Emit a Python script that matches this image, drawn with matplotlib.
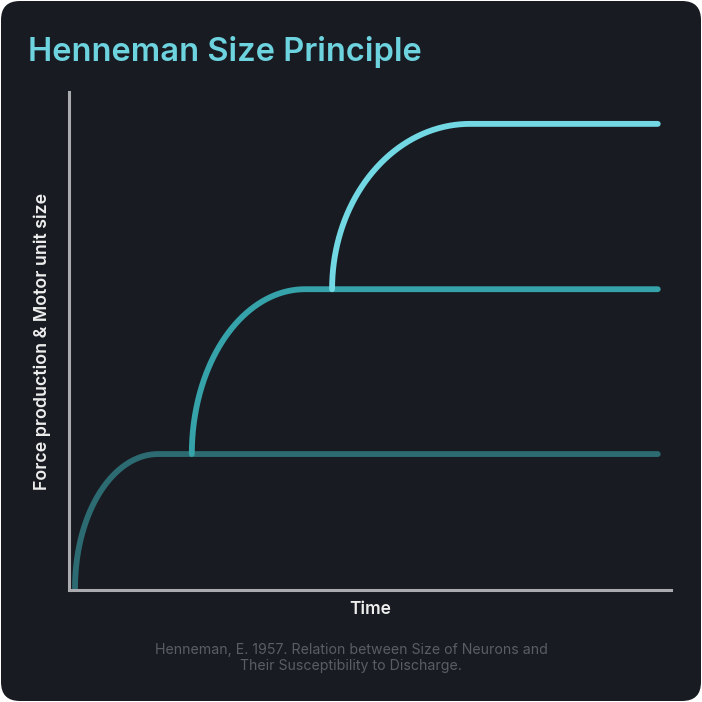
import numpy as np
import matplotlib.pyplot as plt
from matplotlib.patches import FancyBboxPatch

plt.rcParams["font.family"] = ["Inter", "DejaVu Sans"]

# Motor units: recruitment start, time at plateau, force level (0-100 scale)
unit_start = [1.0, 20.4, 43.7]
unit_plateau_t = [14.8, 39.2, 66.6]
unit_force = [27.3, 60.4, 93.6]
unit_base = [0.4, 27.3, 60.4]
end_time = 97.8
unit_colors = ["#2c6b72", "#35a3a9", "#72d9e4"]

bg = "#181c22"
W, H = 702, 702
fig = plt.figure(figsize=(W / 100, H / 100), dpi=100)
fig.patch.set_facecolor("white")
card = FancyBboxPatch((1 / W, 1 / H), 1 - 2 / W, 1 - 2 / H,
                      boxstyle="round,pad=0,rounding_size=0.027",
                      transform=fig.transFigure, facecolor=bg, edgecolor="none",
                      zorder=-10)
fig.patches.append(card)

ax = fig.add_axes([69 / W, (H - 590) / H, (671 - 69) / W, (590 - 92) / H])
ax.set_facecolor("none")
ax.set_xlim(0, 100)
ax.set_ylim(0, 100)

t = np.linspace(0, np.pi / 2, 200)
for x0, x1, y0, y1, c in zip(unit_start, unit_plateau_t, unit_base, unit_force, unit_colors):
    xs = x0 + (x1 - x0) * (1 - np.cos(t))
    ys = y0 + (y1 - y0) * np.sin(t)
    xs = np.append(xs, end_time)
    ys = np.append(ys, y1)
    ax.plot(xs, ys, color=c, lw=4.2, solid_capstyle="round", solid_joinstyle="round",
            clip_on=False)

for s in ["top", "right"]:
    ax.spines[s].set_visible(False)
for s in ["left", "bottom"]:
    ax.spines[s].set_color("#a9abae")
    ax.spines[s].set_linewidth(2.2)
ax.set_xticks([])
ax.set_yticks([])
ax.set_xlabel("Time", color="#eeeeee", fontsize=12.5, fontweight="semibold", labelpad=8)
ax.set_ylabel("Force production & Motor unit size", color="#eeeeee", fontsize=12.8,
              fontweight="semibold", labelpad=13)

fig.text(28 / W, 1 - 61 / H, "Henneman Size Principle", color="#6dd3df",
         fontsize=23.5, fontweight="semibold", ha="left", va="baseline")
fig.text(351 / W, 1 - 658 / H,
         "Henneman, E. 1957. Relation between Size of Neurons and\nTheir Susceptibility to Discharge.",
         color="#5a5e64", fontsize=10.2, ha="center", va="center", linespacing=1.15)

fig.savefig("out.png", dpi=100, facecolor=fig.get_facecolor())
